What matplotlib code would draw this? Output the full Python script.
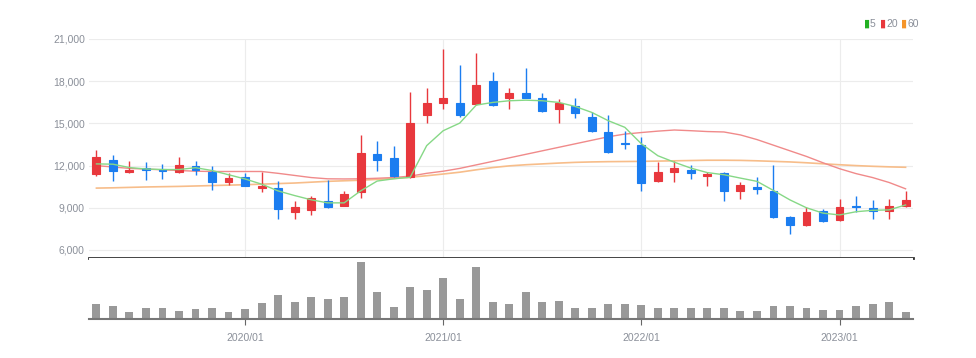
import numpy as np
import matplotlib
matplotlib.use("Agg")
import matplotlib.pyplot as plt

# monthly candles, 2019/04 .. 2023/05
opens = [11410, 12425, 11530, 11810, 11740, 11530, 11950, 11570, 10820, 11170,
         10440, 10420, 8720, 8830, 9470, 9140, 10110, 12830, 12540, 11170,
         15590, 16420, 16460, 16370, 18020, 16780, 17130, 16780, 16000, 16250,
         15430, 14420, 13610, 13490, 10870, 11530, 11690, 11290, 11480, 10160,
         10490, 10160, 8340, 7800, 8790, 8110, 9160, 9020, 8740, 9120]
highs = [13130, 12755, 12350, 12280, 12120, 12640, 12350, 12000, 11480, 11460,
         11530, 10870, 9450, 9870, 10940, 10180, 14200, 13750, 13370, 17200,
         17550, 20270, 19160, 19990, 18680, 17550, 18920, 17130, 16720, 16770,
         15780, 15610, 14440, 14010, 12280, 12350, 12050, 11530, 11570, 10820,
         11220, 12050, 8400, 9050, 8880, 9640, 9830, 9570, 9590, 10180]
lows = [11290, 10870, 11480, 11010, 11050, 11480, 11340, 10300, 10630, 10540,
        10110, 8170, 8170, 8500, 9000, 9100, 9690, 11620, 11220, 11100,
        15020, 16010, 15470, 16320, 16270, 16010, 16780, 15800, 15020, 15380,
        14370, 12900, 13180, 10160, 10820, 10820, 11050, 10580, 9450, 9640,
        9990, 8270, 7140, 7710, 8020, 8060, 8720, 8200, 8200, 9080]
closes = [12590, 11620, 11720, 11720, 11620, 12050, 11720, 10820, 11150, 10580,
          10580, 8930, 9070, 9730, 9050, 9990, 12900, 12400, 11290, 15020,
          16420, 16840, 15590, 17740, 16320, 17130, 16820, 15860, 16420, 15730,
          14440, 13000, 13510, 10750, 11530, 11810, 11480, 11430, 10160, 10630,
          10350, 8320, 7800, 8700, 8080, 9070, 9070, 8790, 9120, 9570]
volumes = [42, 35, 20, 32, 30, 23, 27, 32, 20, 27,
           45, 66, 48, 62, 57, 60, 159, 75, 33, 89,
           82, 115, 55, 144, 48, 42, 76, 46, 50, 30,
           30, 42, 42, 40, 30, 30, 30, 30, 30, 23,
           21, 37, 35, 32, 26, 25, 37, 42, 47, 20]

# moving averages
ma5 = [12120, 12100, 11860, 11760, 11720, 11720, 11850, 11650, 11350, 11050,
       10680, 10200, 9870, 9570, 9350, 9350, 10200, 10900, 11060, 11170,
       13420, 14480, 15020, 16300, 16490, 16610, 16650, 16610, 16490, 16200,
       15780, 15190, 14720, 13550, 12700, 12240, 11820, 11500, 11350, 11110,
       10880, 10230, 9560, 9000, 8620, 8490, 8720, 8820, 8850, 9200]
ma20 = [12000, 11900, 11800, 11750, 11700, 11650, 11600, 11580, 11580, 11580,
        11580, 11450, 11300, 11150, 11060, 11050, 11060, 11100, 11150, 11250,
        11450, 11600, 11800, 12050, 12300, 12550, 12800, 13050, 13300, 13550,
        13800, 14050, 14240, 14350, 14450, 14530, 14480, 14420, 14390, 14180,
        13850, 13450, 13050, 12650, 12200, 11780, 11430, 11150, 10800, 10350]
ma60 = [10400, 10420, 10450, 10480, 10500, 10520, 10550, 10580, 10610, 10640,
        10680, 10720, 10760, 10820, 10880, 10920, 10960, 11020, 11080, 11170,
        11280, 11400, 11530, 11700, 11860, 11980, 12060, 12120, 12180, 12230,
        12260, 12280, 12290, 12300, 12320, 12340, 12360, 12380, 12380, 12370,
        12340, 12300, 12260, 12200, 12130, 12060, 12000, 11950, 11910, 11880]

tick_pos = [9, 21, 33, 45]
tick_labels = ["2020/01", "2021/01", "2022/01", "2023/01"]
y_ticks = [6000, 9000, 12000, 15000, 18000, 21000]

up_col = "#e8383d"
down_col = "#1b7df0"
gray_txt = "#8a8f99"

plt.rcParams['font.family'] = ['Liberation Sans', 'DejaVu Sans']

fig = plt.figure(figsize=(9.76, 3.58), dpi=100)
W, H = 976, 358
left, right = 89 / W, 913 / W
ax = fig.add_axes([left, 1 - 258 / H, right - left, (258 - 39) / H])
axv = fig.add_axes([left, 1 - 319 / H, right - left, (319 - 258) / H], sharex=ax)

x = np.arange(len(opens))
o = np.array(opens)
c = np.array(closes)
cols = [up_col if cc >= oo else down_col for oo, cc in zip(o, c)]

ax.vlines(x, lows, highs, colors=cols, linewidth=1, zorder=3)
ax.bar(x, np.abs(c - o), bottom=np.minimum(o, c), width=0.48, color=cols,
       edgecolor=cols, linewidth=0.8, zorder=4)
ax.plot(x, ma60, color="#f7bd8a", linewidth=1.2, zorder=2)
ax.plot(x, ma20, color="#f08a8a", linewidth=1.0, zorder=2)
ax.plot(x, ma5, color="#86d886", linewidth=1.0, zorder=5)

ax.set_xlim(-0.45, len(opens) - 0.55)
ax.set_ylim(5430, 21000)
ax.set_yticks(y_ticks)
ax.set_yticklabels([f"{v:,}" for v in y_ticks], color=gray_txt, fontsize=7.5)
ax.tick_params(axis='y', length=0, pad=3)
ax.tick_params(axis='x', length=0, labelbottom=False)
ax.set_xticks(tick_pos)
ax.grid(True, color="#ececec", linewidth=0.8)
ax.set_axisbelow(True)
for s in ["top", "right", "left"]:
    ax.spines[s].set_visible(False)
ax.spines["bottom"].set_color("#333333")
ax.spines["bottom"].set_linewidth(2)

axv.bar(x, volumes, width=0.48, color="#999999")
axv.set_ylim(0, 170)
axv.set_yticks([])
axv.set_xticks(tick_pos)
axv.set_xticklabels(tick_labels, color=gray_txt, fontsize=7.5)
axv.tick_params(axis='x', length=4, color="#666666", pad=6)
for s in ["top", "right", "left"]:
    axv.spines[s].set_visible(False)
axv.spines["bottom"].set_color("#777777")
axv.spines["bottom"].set_linewidth(1.5)

# legend in top-right corner
leg_items = [("5", "#22b022"), ("20", "#e8383d"), ("60", "#f5952a")]
lx = 864
for lab, col in leg_items:
    fig.text(lx / W, 1 - 24 / H, "\u25ae", color=col, fontsize=8, va="center")
    fig.text((lx + 6) / W, 1 - 24 / H, lab, color=gray_txt, fontsize=7.5, va="center")
    lx += 7 + 5 * len(lab) + 4

fig.savefig("out.png", dpi=100)
